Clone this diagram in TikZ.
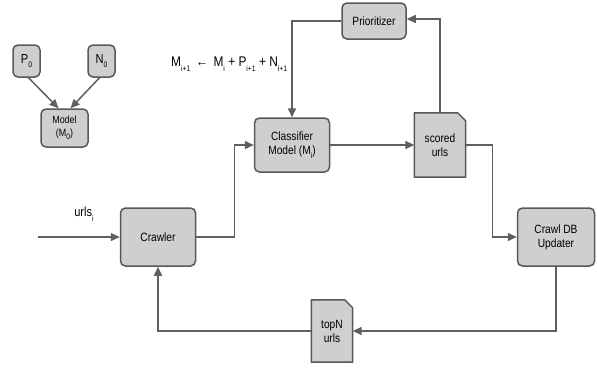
\documentclass[tikz,border=0pt]{standalone}
\usepackage{fontspec}
\setmainfont[FakeStretch=0.85]{Liberation Sans}
\usetikzlibrary{arrows.meta,backgrounds}
\definecolor{boxfill}{RGB}{207,207,207}
\definecolor{edge}{RGB}{88,88,88}
\definecolor{linec}{RGB}{95,95,95}
\newcommand\sbs[1]{\raisebox{-0.7ex}{\fontsize{8}{9}\selectfont #1}}
\tikzset{
  box/.style={draw=edge, fill=boxfill, line width=1.5pt, rounded corners=5pt, align=center, font=\fontsize{12}{14}\selectfont, inner sep=1pt},
  docnode/.style={draw=none, align=center, font=\fontsize{12}{14}\selectfont, inner sep=1pt},
  docshape/.style={draw=edge, fill=boxfill, line width=1.5pt, line join=round},
  conn/.style={draw=linec, line width=1.5pt, -{Triangle[length=9pt,width=8pt]}},
  lbl/.style={font=\fontsize{13}{15}\selectfont, inner sep=0pt}
}
\begin{document}
\begin{tikzpicture}[x=1pt,y=-1pt]
\useasboundingbox (0,0) rectangle (597,368);
% nodes
\node[box, minimum width=27, minimum height=32, font=\fontsize{13}{15}\selectfont] (p0) at (26.5,61) {P\sbs{0}};
\node[box, minimum width=27, minimum height=32, font=\fontsize{13}{15}\selectfont] (n0) at (101.5,61) {N\sbs{0}};
\node[box, minimum width=47, minimum height=38, font=\fontsize{10.5}{12.5}\selectfont] (m0) at (64.5,128) {Model\\(M\sbs{0})};
\node[box, minimum width=64, minimum height=36] (pr) at (374,21) {Prioritizer};
\node[box, minimum width=75, minimum height=54] (cls) at (292,145) {Classifier\\Model (M\sbs{i})};
\node[box, minimum width=75, minimum height=58] (cr) at (158,237) {Crawler};
\node[box, minimum width=77, minimum height=58] (db) at (556,237) {Crawl DB\\Updater};
\node[docnode, minimum width=51, minimum height=64] (sc) at (440,145) {scored\\urls};
\node[docnode, minimum width=41, minimum height=62] (tn) at (332,331) {topN\\urls};
\begin{scope}[on background layer]
\draw[docshape] (sc.south west) -- (sc.north west) -- ([xshift=-8]sc.north east) -- ([yshift=-8]sc.north east) -- (sc.south east) -- cycle;
\draw[docshape] (tn.south west) -- (tn.north west) -- ([xshift=-8]tn.north east) -- ([yshift=-8]tn.north east) -- (tn.south east) -- cycle;
\end{scope}
% labels
\node[lbl, anchor=west, font=\fontsize{14}{16}\selectfont] (eq) at (171,64) {M\sbs{i+1} \,←\, M\sbs{i} + P\sbs{i+1} + N\sbs{i+1}};
\node[lbl] (ul) at (84,214) {urls\sbs{i}};
\coordinate (in) at (38,237);
% connectors
\draw[conn] ([xshift=2]p0.south) -- ([xshift=-6]m0.north);
\draw[conn] ([xshift=-2]n0.south) -- ([xshift=6]m0.north);
\draw[conn] (in) -- (cr.west);
\draw[conn] (cr.east) -- ++(38,0) |- (cls.west);
\draw[conn] (cls.east) -- (sc.west);
\draw[conn] (sc.east) -- ++(27,0) |- (db.west);
\draw[conn] (db.south) |- (tn.east);
\draw[conn] (tn.west) -| (cr.south);
\draw[conn] (sc.north) |- ([yshift=2]pr.east);
\draw[conn] (pr.west) -| (cls.north);
\end{tikzpicture}
\end{document}
